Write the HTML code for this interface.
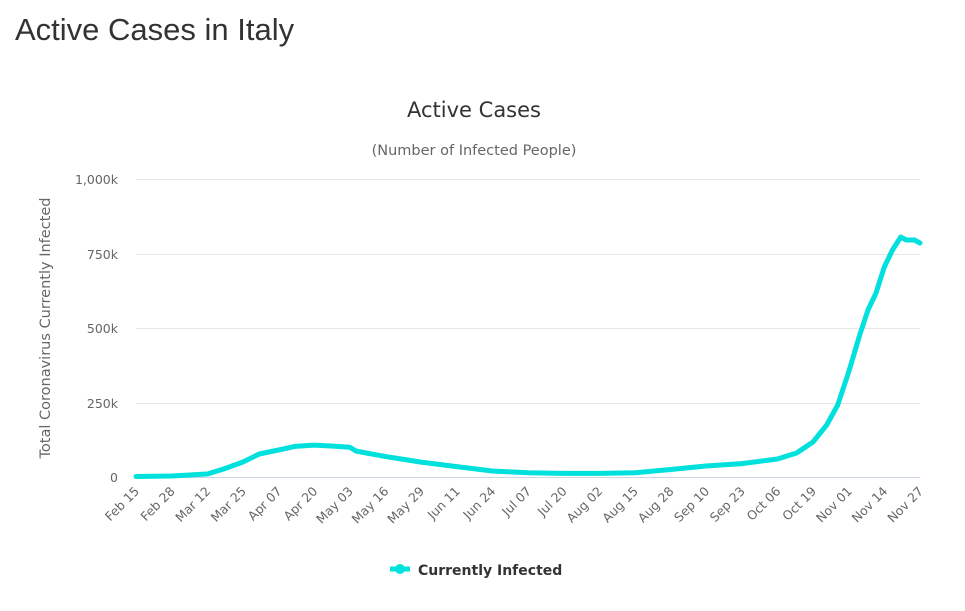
<!DOCTYPE html>
<html><head><meta charset="utf-8"><style>
body{margin:0;background:#fff;width:965px;height:606px;overflow:hidden;font-family:"Liberation Sans",sans-serif}
</style></head><body>
<svg width="965" height="606" xmlns="http://www.w3.org/2000/svg" font-family="DejaVu Sans, sans-serif">
<text x="15" y="40" font-size="31" fill="#333" font-family="Liberation Sans, sans-serif">Active Cases in Italy</text>
<text x="474" y="117" font-size="21" fill="#333" text-anchor="middle">Active Cases</text>
<text x="474" y="155" font-size="14.5" fill="#666" text-anchor="middle">(Number of Infected People)</text>
<g stroke="#e6e6e6" stroke-width="1">
<line x1="136" x2="920" y1="179.5" y2="179.5"/><line x1="136" x2="920" y1="254.5" y2="254.5"/>
<line x1="136" x2="920" y1="328.5" y2="328.5"/><line x1="136" x2="920" y1="403.5" y2="403.5"/>
</g>
<line x1="136" x2="920" y1="477.5" y2="477.5" stroke="#ccd6eb"/>
<g font-size="12.5" fill="#666" text-anchor="end">
<text x="118" y="184">1,000k</text><text x="118" y="259">750k</text><text x="118" y="333">500k</text><text x="118" y="408">250k</text><text x="118" y="482">0</text>
</g>
<text transform="translate(50,328) rotate(-90)" font-size="14.5" fill="#666" text-anchor="middle">Total Coronavirus Currently Infected</text>
<g font-size="12.5" fill="#666" text-anchor="end">
<text transform="translate(140,492) rotate(-45)">Feb 15</text>
<text transform="translate(175.6,492) rotate(-45)">Feb 28</text>
<text transform="translate(211.3,492) rotate(-45)">Mar 12</text>
<text transform="translate(246.9,492) rotate(-45)">Mar 25</text>
<text transform="translate(282.5,492) rotate(-45)">Apr 07</text>
<text transform="translate(318.2,492) rotate(-45)">Apr 20</text>
<text transform="translate(353.8,492) rotate(-45)">May 03</text>
<text transform="translate(389.4,492) rotate(-45)">May 16</text>
<text transform="translate(425,492) rotate(-45)">May 29</text>
<text transform="translate(460.7,492) rotate(-45)">Jun 11</text>
<text transform="translate(496.3,492) rotate(-45)">Jun 24</text>
<text transform="translate(532,492) rotate(-45)">Jul 07</text>
<text transform="translate(567.6,492) rotate(-45)">Jul 20</text>
<text transform="translate(603.2,492) rotate(-45)">Aug 02</text>
<text transform="translate(638.9,492) rotate(-45)">Aug 15</text>
<text transform="translate(674.5,492) rotate(-45)">Aug 28</text>
<text transform="translate(710.1,492) rotate(-45)">Sep 10</text>
<text transform="translate(745.8,492) rotate(-45)">Sep 23</text>
<text transform="translate(781.4,492) rotate(-45)">Oct 06</text>
<text transform="translate(817,492) rotate(-45)">Oct 19</text>
<text transform="translate(852.7,492) rotate(-45)">Nov 01</text>
<text transform="translate(888.3,492) rotate(-45)">Nov 14</text>
<text transform="translate(924,492) rotate(-45)">Nov 27</text>
</g>
<polyline fill="none" stroke="#00e0dc" stroke-width="5" stroke-linejoin="round" stroke-linecap="round" points="136,476.5 171.6,476 207.3,474 223.7,469 242.9,462 259.3,454 278.5,450 295,446.4 314.2,445.1 333.4,446.1 349.8,447.2 356,451 366.2,453 385.4,456.5 421,462.1 456.7,466.6 492.3,471 528,472.8 563.6,473.4 599.2,473.4 634.9,472.8 670.5,469.5 706.1,466 741.8,463.6 777.4,459 796.6,453 813,442 826.7,425 837.7,405 848.7,372 859.7,335 868,310 876,293 884.3,267 892.5,250 900.7,237 906.2,240 914.4,240 920,243"/>
<line x1="390" x2="410" y1="569" y2="569" stroke="#00e0dc" stroke-width="5"/>
<circle cx="400" cy="569" r="5" fill="#00e0dc"/>
<text x="418" y="575" font-size="14" font-weight="bold" fill="#333">Currently Infected</text>
</svg>
</body></html>
